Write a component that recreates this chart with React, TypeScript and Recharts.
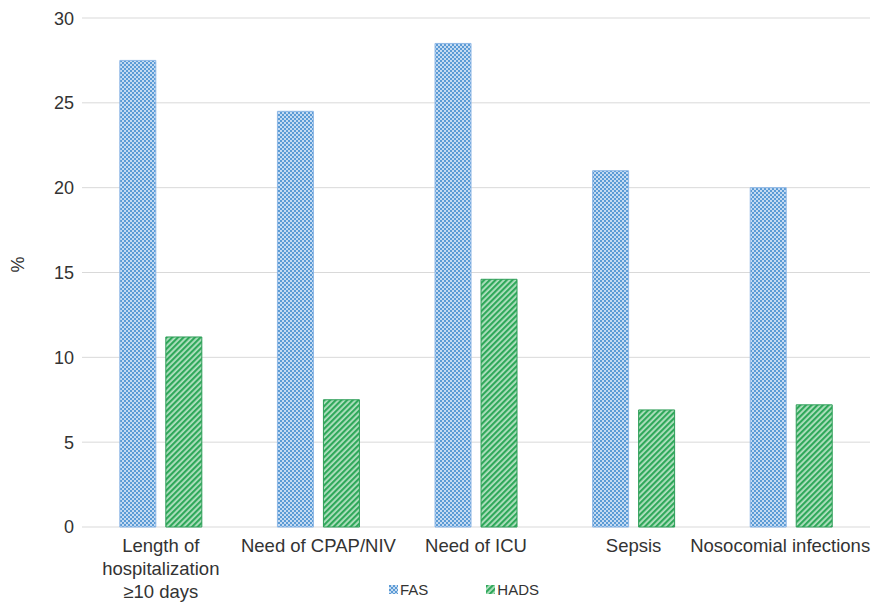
import { Bar, BarChart, CartesianGrid, Legend, XAxis, YAxis } from 'recharts'

const categories = [
  'Length of\nhospitalization\n≥10 days',
  'Need of CPAP/NIV',
  'Need of ICU',
  'Sepsis',
  'Nosocomial infections',
]
const fasValues = [27.5, 24.5, 28.5, 21.0, 20.0]
const hadsValues = [11.2, 7.5, 14.6, 6.9, 7.2]
const yTicks = [0, 5, 10, 15, 20, 25, 30]

const data = categories.map((name, i) => ({
  name,
  FAS: fasValues[i],
  HADS: hadsValues[i],
}))

const font = '"Liberation Sans", Arial, sans-serif'

function Patterns() {
  return (
    <defs>
      <pattern id='fasPat' width='4' height='4' patternUnits='userSpaceOnUse'>
        <rect width='4' height='4' fill='#c5dbf2' />
        <rect x='0' y='0' width='2' height='2' fill='#5b9bd5' />
        <rect x='2' y='2' width='2' height='2' fill='#5b9bd5' />
      </pattern>
      <pattern
        id='hadsPat'
        width='4'
        height='4'
        patternUnits='userSpaceOnUse'
        patternTransform='rotate(45)'
      >
        <rect width='4' height='4' fill='#b5e2c3' />
        <rect x='0' y='0' width='2.2' height='4' fill='#2fa85a' />
      </pattern>
    </defs>
  )
}

function XTick(props: any) {
  const { x, y, payload, index } = props
  const lines = String(payload.value).split('\n')
  // the last label would run past the right edge, nudge it in like the original
  const shift = index === categories.length - 1 ? -11 : 0
  return (
    <text x={x + shift} y={y} textAnchor='middle' fill='#333' fontSize={18.5} fontFamily={font}>
      {lines.map((l, i) => (
        <tspan key={i} x={x + shift} dy={i === 0 ? 17 : 23}>
          {l}
        </tspan>
      ))}
    </text>
  )
}

function LegendContent() {
  const items = [
    { label: 'FAS', fill: 'url(#fasPat)' },
    { label: 'HADS', fill: 'url(#hadsPat)' },
  ]
  return (
    <div style={{ display: 'flex', justifyContent: 'center', gap: 58, marginLeft: 50 }}>
      {items.map((it) => (
        <div key={it.label} style={{ display: 'flex', alignItems: 'center', fontFamily: font, fontSize: 15, color: '#333' }}>
          <svg width={9} height={9} style={{ marginRight: 2 }}>
            <rect width={9} height={9} fill={it.fill} />
          </svg>
          {it.label}
        </div>
      ))}
    </div>
  )
}

export default function App() {
  return (
    <BarChart
      width={872}
      height={594}
      data={data}
      margin={{ top: 10, right: 10, left: 0, bottom: 0 }}
      barCategoryGap='24%'
      barGap={10}
    >
      <Patterns />
      <CartesianGrid vertical={false} stroke='#d9d9d9' />
      <XAxis
        dataKey='name'
        interval={0}
        tickLine={false}
        axisLine={false}
        height={58}
        tick={<XTick />}
      />
      <YAxis
        width={74}
        domain={[0, 30]}
        ticks={yTicks}
        tickLine={false}
        axisLine={false}
        tick={{ fill: '#333', fontSize: 18, fontFamily: font }}
        label={{
          value: '%',
          angle: -90,
          position: 'insideLeft',
          offset: 10,
          style: { fill: '#333', fontSize: 18, fontFamily: font },
        }}
      />
      <Legend
        verticalAlign='bottom'
        content={<LegendContent />}
        wrapperStyle={{ bottom: 4 }}
      />
      <Bar dataKey='FAS' fill='url(#fasPat)' stroke='#8fb8e6' strokeWidth={1} isAnimationActive={false} />
      <Bar dataKey='HADS' fill='url(#hadsPat)' stroke='#2e9e58' strokeWidth={1} isAnimationActive={false} />
    </BarChart>
  )
}
